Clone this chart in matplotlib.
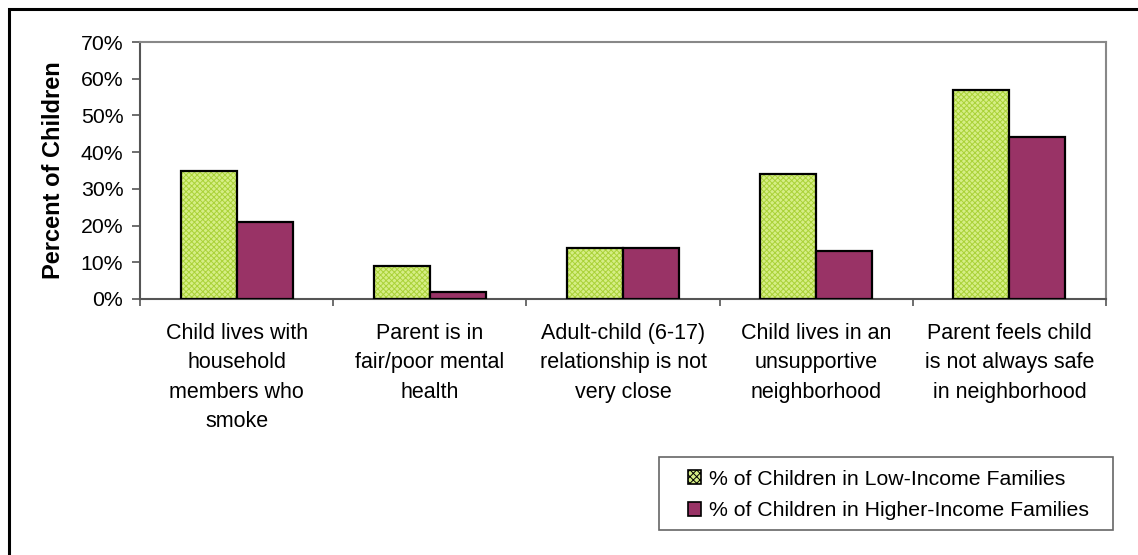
import numpy as np
import matplotlib.pyplot as plt
from matplotlib.patches import Patch, Rectangle

plt.rcParams['font.family'] = ['Liberation Sans', 'DejaVu Sans']
plt.rcParams['hatch.linewidth'] = 0.7

categories = [
    "Child lives with\nhousehold\nmembers who\nsmoke",
    "Parent is in\nfair/poor mental\nhealth",
    "Adult-child (6-17)\nrelationship is not\nvery close",
    "Child lives in an\nunsupportive\nneighborhood",
    "Parent feels child\nis not always safe\nin neighborhood",
]
low_income = [35, 9, 14, 34, 57]
higher_income = [21, 2, 14, 13, 44]
series_names = ["% of Children in Low-Income Families",
                "% of Children in Higher-Income Families"]
y_ticks = [0, 10, 20, 30, 40, 50, 60, 70]

green_face = '#d6ee86'
green_hatch = '#aad238'
plum = '#993366'

W, H = 1138, 555
fig = plt.figure(figsize=(W / 100, H / 100), dpi=100)
ax = fig.add_axes([140 / W, 1 - 299 / H, 966 / W, 257 / H])

x = np.arange(len(categories))
w = 0.29

# green bars: pattern then outline
ax.bar(x - w / 2, low_income, w, color=green_face, edgecolor=green_hatch,
       hatch='xxxxxx', linewidth=0, zorder=2)
ax.bar(x - w / 2, low_income, w, fill=False, edgecolor='black', linewidth=1.6, zorder=3)
ax.bar(x + w / 2, higher_income, w, color=plum, edgecolor='black', linewidth=1.6, zorder=3)

ax.set_xlim(-0.5, len(categories) - 0.5)
ax.set_ylim(0, 70)
ax.set_yticks(y_ticks)
ax.set_yticklabels([f'{v}%' for v in y_ticks], fontsize=15.3)
ax.set_xticks(np.arange(len(categories) + 1) - 0.5)
ax.set_xticklabels([])
ax.set_xticks(x, minor=True)
ax.set_xticklabels(categories, minor=True, fontsize=15.5, linespacing=1.53, va='top')
ax.tick_params(axis='x', which='minor', length=0, pad=17)
ax.tick_params(axis='x', which='major', length=5, color='#555555', width=1.2)
ax.tick_params(axis='y', length=6, color='#555555', width=1.2, pad=6)
ax.set_ylabel('Percent of Children', fontsize=17, fontweight='bold', labelpad=11)

for side in ['left', 'bottom']:
    ax.spines[side].set_color('#555555')
    ax.spines[side].set_linewidth(1.5)
for side in ['top', 'right']:
    ax.spines[side].set_color('#888888')
    ax.spines[side].set_linewidth(1.5)

# legend box
fig.patches.append(Rectangle((659 / W, 1 - 530 / H), (1113 - 659) / W, 73 / H,
                             transform=fig.transFigure, fill=False,
                             edgecolor='#666666', linewidth=1.2))
handles = [
    Patch(facecolor=green_face, edgecolor='black', hatch='xxxxx', linewidth=1.2),
    Patch(facecolor=plum, edgecolor='black', linewidth=1.2),
]
fig.legend(handles, series_names, loc='center left',
           bbox_to_anchor=(688 / W, 1 - 495 / H), fontsize=15.3, frameon=False,
           handlelength=0.62, handleheight=0.62, handletextpad=0.35,
           borderaxespad=0, labelspacing=0.58, borderpad=0)

# outer chart frame (cropped on right and bottom)
fig.patches.append(Rectangle((9 / W, -0.1), 1.2, 1 - 9 / H + 0.1,
                             transform=fig.transFigure, fill=False,
                             edgecolor='black', linewidth=2.2))

fig.savefig('out.png', dpi=100)
